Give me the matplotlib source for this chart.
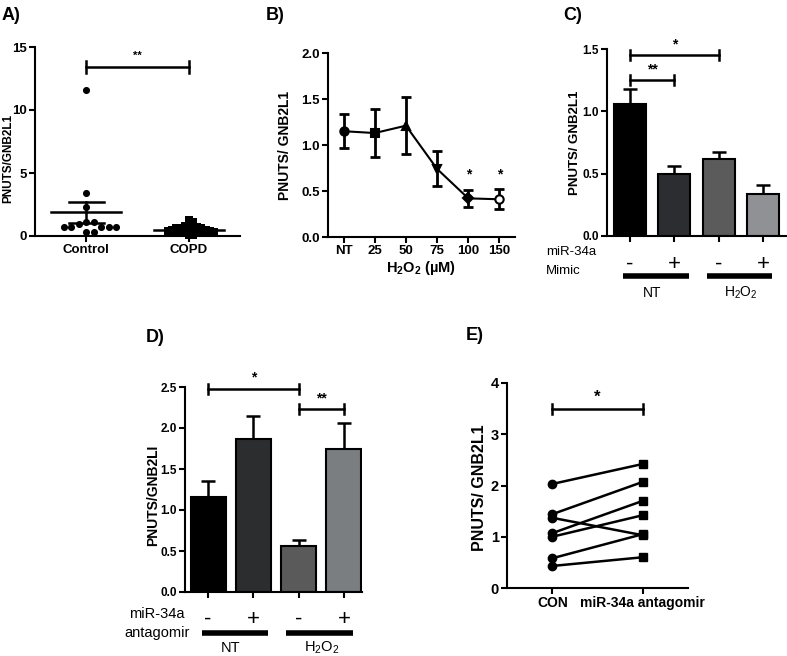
import numpy as np
import matplotlib
matplotlib.use("Agg")
import matplotlib.pyplot as plt

plt.rcParams['font.family'] = ['Liberation Sans', 'DejaVu Sans']
plt.rcParams['mathtext.fontset'] = 'custom'
plt.rcParams['mathtext.rm'] = 'Liberation Sans'
plt.rcParams['mathtext.bf'] = 'Liberation Sans:bold'

# ---- A) patient samples
control_vals = [11.6, 3.4, 2.3, 1.1, 1.1, 0.95, 0.7, 0.7, 0.7, 0.7, 0.7, 0.3, 0.3]
copd_vals = [1.3, 1.1, 0.8, 0.8, 0.7, 0.7, 0.6, 0.6, 0.6, 0.5, 0.5, 0.5,
             0.4, 0.4, 0.4, 0.4, 0.3, 0.3, 0.3, 0.2, 0.2, 0.2, 0.1, 0.1]
groups_a = ["Control", "COPD"]

# ---- B) H2O2 dose response
doses = ["NT", "25", "50", "75", "100", "150"]
dose_mean = [1.15, 1.13, 1.21, 0.74, 0.42, 0.41]
dose_err = [0.185, 0.265, 0.31, 0.19, 0.095, 0.11]
dose_markers = ['o', 's', '^', 'v', 'D', 'o']
dose_sig = ["", "", "", "", "*", "*"]

# ---- C) miR-34a mimic
mimic_mean = [1.06, 0.50, 0.62, 0.34]
mimic_err = [0.12, 0.06, 0.05, 0.07]
mimic_colors = ['#000000', '#2b2d30', '#5b5b5b', '#8f9194']

# ---- D) miR-34a antagomir
antag_mean = [1.16, 1.86, 0.56, 1.75]
antag_err = [0.19, 0.29, 0.08, 0.31]
antag_colors = ['#000000', '#2b2d2f', '#5a5a5a', '#7b7e80']
signs = ["-", "+", "-", "+"]

# ---- E) paired samples
con_vals = [2.03, 1.44, 1.37, 1.07, 1.00, 0.58, 0.43]
antag_vals = [2.42, 2.07, 1.03, 1.70, 1.42, 1.05, 0.60]
groups_e = ["CON", "miR-34a antagomir"]

W, H = 787, 656
fig = plt.figure(figsize=(W / 100, H / 100), dpi=100)


def add_ax(x0, y_top, x1, y_bot):
    ax = fig.add_axes([x0 / W, 1 - y_bot / H, (x1 - x0) / W, (y_bot - y_top) / H])
    for s in ['top', 'right']:
        ax.spines[s].set_visible(False)
    for s in ['left', 'bottom']:
        ax.spines[s].set_linewidth(1.5)
    ax.tick_params(direction='out', width=1.5, length=4, pad=2)
    return ax


def sig_bar(ax, x0, x1, y, cap, text, dy, size=9):
    ax.plot([x0, x1], [y, y], color='k', lw=1.8, clip_on=False)
    ax.plot([x0, x0], [y - cap, y + cap], color='k', lw=1.8, clip_on=False)
    ax.plot([x1, x1], [y - cap, y + cap], color='k', lw=1.8, clip_on=False)
    ax.text((x0 + x1) / 2, y + dy, text, ha='center', va='bottom',
            fontsize=size, fontweight='bold', clip_on=False)


def swarm(vals, px_x, px_y, d):
    # simple beeswarm: push each point sideways until it no longer overlaps
    placed = []
    offs = []
    for v in vals:
        y = v * px_y
        k = 0
        while True:
            step = (k + 1) // 2 * (1 if k % 2 else -1) * d * 0.5
            if all((step - px) ** 2 + (y - py) ** 2 >= d * d for px, py in placed):
                break
            k += 1
        placed.append((step, y))
        offs.append(step / px_x)
    return offs


# ===== A
axA = add_ax(35, 47, 240, 236)
axA.set_xlim(-0.5, 1.5)
axA.set_ylim(0, 15)
axA.set_yticks([0, 5, 10, 15])
axA.set_xticks([0, 1])
axA.set_xticklabels(groups_a, fontweight='bold', fontsize=9.5)
for t in axA.get_yticklabels():
    t.set_fontweight('bold'); t.set_fontsize(9.5)
px_x, px_y = 102.0, 12.6
for i, vals in enumerate([control_vals, copd_vals]):
    offs = swarm(vals, px_x, px_y, 7.5 if i == 0 else 4.2)
    mk = 'o' if i == 0 else 's'
    axA.scatter([i + o for o in offs], vals, marker=mk, s=26, color='k',
                zorder=3, clip_on=False, linewidths=0)
    m = np.mean(vals)
    sem = np.std(vals, ddof=1) / np.sqrt(len(vals))
    axA.plot([i - 0.34, i + 0.34], [m, m], color='k', lw=1.8, zorder=4)
    axA.plot([i - 0.17, i + 0.17], [m + sem, m + sem], color='k', lw=1.8, zorder=4)
    axA.plot([i - 0.17, i + 0.17], [m - sem, m - sem], color='k', lw=1.8, zorder=4)
    axA.plot([i, i], [m - sem, m + sem], color='k', lw=1.8, zorder=4)
sig_bar(axA, 0, 1, 13.4, 0.45, "**", 0.5, size=8)
axA.set_ylabel("PNUTS/GNB2L1", fontweight='bold', fontsize=8.5)
axA.yaxis.set_label_coords(-0.1, 0.41)

# ===== B
axB = add_ax(328, 53, 515, 237)
axB.set_xlim(-0.5, 5.5)
axB.set_ylim(0, 2.0)
axB.set_yticks([0, 0.5, 1.0, 1.5, 2.0])
axB.set_yticklabels(["0.0", "0.5", "1.0", "1.5", "2.0"], fontweight='bold', fontsize=9.5)
xb = np.arange(len(doses))
axB.set_xticks(xb)
axB.set_xticklabels(doses, fontweight='bold', fontsize=9.5)
axB.errorbar(xb, dose_mean, yerr=dose_err, fmt='none', ecolor='k', elinewidth=2,
             capsize=3.5, capthick=2, zorder=2)
axB.plot(xb, dose_mean, color='k', lw=1.5, zorder=3)
for x, y, mk, lab in zip(xb, dose_mean, dose_markers, dose_sig):
    face = 'white' if (mk == 'o' and x == len(doses) - 1) else 'k'
    axB.plot(x, y, marker=mk, markersize=6 if mk != 'D' else 5,
             markerfacecolor=face, markeredgecolor='k', markeredgewidth=1.5, zorder=4)
    if lab:
        axB.text(x, 0.6, lab, ha='center', va='bottom', fontsize=10, fontweight='bold')
axB.set_xlabel(r'$\mathbf{H_2O_2}$ (µM)', fontweight='bold', fontsize=10.5, labelpad=1)
axB.set_ylabel("PNUTS/ GNB2L1", fontweight='bold', fontsize=10)
axB.yaxis.set_label_coords(-0.19, 0.5)

# ===== C
axC = add_ax(607, 49, 787, 236)
axC.set_xlim(-0.52, 3.54)
axC.set_ylim(0, 1.5)
xc = np.arange(4)
axC.bar(xc, mimic_mean, width=0.72, color=mimic_colors, edgecolor='k', linewidth=1.5, zorder=2)
axC.errorbar(xc, mimic_mean, yerr=[np.zeros(4), mimic_err], fmt='none', ecolor='k',
             elinewidth=1.8, capsize=5, capthick=1.8, zorder=1)
axC.set_yticks([0, 0.5, 1.0, 1.5])
axC.set_yticklabels(["0.0", "0.5", "1.0", "1.5"], fontweight='bold', fontsize=8.5)
axC.set_xticks(xc)
axC.set_xticklabels([])
sig_bar(axC, 0, 2, 1.45, 0.04, "*", 0.03, size=10)
sig_bar(axC, 0, 1, 1.25, 0.04, "**", 0.03, size=10)
axC.set_ylabel("PNUTS/ GNB2L1", fontweight='bold', fontsize=9.5)
axC.yaxis.set_label_coords(-0.145, 0.5)
tc = axC.get_xaxis_transform()
axC.text(-1.9, -0.086, "miR-34a", transform=tc, fontsize=9.5,
         ha='left', va='center', clip_on=False)
axC.text(-1.9, -0.187, "Mimic", transform=tc, fontsize=9.5,
         ha='left', va='center', clip_on=False)
for x, s in zip(xc, signs):
    axC.text(x, -0.15, s, transform=tc, fontsize=16, ha='center', va='center', clip_on=False)
axC.plot([-0.16, 1.33], [-0.214, -0.214], transform=tc, color='k', lw=4,
         clip_on=False, solid_capstyle='butt')
axC.plot([1.74, 3.2], [-0.214, -0.214], transform=tc, color='k', lw=4,
         clip_on=False, solid_capstyle='butt')
axC.text(0.5, -0.305, "NT", transform=tc, fontsize=10,
         ha='center', va='center', clip_on=False)
axC.text(2.5, -0.305, r'$\mathrm{H_2O_2}$', transform=tc, fontsize=10,
         ha='center', va='center', clip_on=False)

# ===== D
axD = add_ax(185, 387, 362, 592)
axD.set_xlim(-0.51, 3.4)
axD.set_ylim(0, 2.5)
xd = np.arange(4)
axD.bar(xd, antag_mean, width=0.77, color=antag_colors, edgecolor='k', linewidth=1.5, zorder=2)
axD.errorbar(xd, antag_mean, yerr=[np.zeros(4), antag_err], fmt='none', ecolor='k',
             elinewidth=1.8, capsize=5, capthick=1.8, zorder=1)
axD.set_yticks([0, 0.5, 1.0, 1.5, 2.0, 2.5])
axD.set_yticklabels(["0.0", "0.5", "1.0", "1.5", "2.0", "2.5"], fontweight='bold',
                    fontsize=8.5)
axD.set_xticks(xd)
axD.set_xticklabels([])
sig_bar(axD, 0, 2, 2.48, 0.06, "*", 0.05, size=10)
sig_bar(axD, 2, 3, 2.23, 0.06, "**", 0.05, size=10)
axD.set_ylabel("PNUTS/GNB2LI", fontweight='bold', fontsize=10)
axD.yaxis.set_label_coords(-0.14, 0.47)
td = axD.get_xaxis_transform()
axD.text(-1.13, -0.107, "miR-34a", transform=td, fontsize=10.5,
         ha='center', va='center', clip_on=False)
axD.text(-1.13, -0.2, "antagomir", transform=td, fontsize=10.5,
         ha='center', va='center', clip_on=False)
for x, s in zip(xd, signs):
    axD.text(x, -0.135, s, transform=td, fontsize=16, ha='center', va='center', clip_on=False)
axD.plot([-0.13, 1.32], [-0.2, -0.2], transform=td, color='k', lw=4,
         clip_on=False, solid_capstyle='butt')
axD.plot([1.72, 3.2], [-0.2, -0.2], transform=td, color='k', lw=4,
         clip_on=False, solid_capstyle='butt')
axD.text(0.5, -0.273, "NT", transform=td, fontsize=10.5,
         ha='center', va='center', clip_on=False)
axD.text(2.5, -0.273, r'$\mathrm{H_2O_2}$', transform=td, fontsize=10.5,
         ha='center', va='center', clip_on=False)

# ===== E
axE = add_ax(507, 383, 688, 588)
axE.set_xlim(-0.5, 1.5)
axE.set_ylim(0, 4)
axE.set_yticks([0, 1, 2, 3, 4])
axE.set_yticklabels(["0", "1", "2", "3", "4"], fontweight='bold', fontsize=10.5)
axE.set_xticks([0, 1])
axE.set_xticklabels(groups_e, fontweight='bold', fontsize=10)
for a, b in zip(con_vals, antag_vals):
    axE.plot([0, 1], [a, b], color='k', lw=1.8, zorder=2)
axE.plot(np.zeros(len(con_vals)), con_vals, 'o', color='k', markersize=6, zorder=3)
axE.plot(np.ones(len(antag_vals)), antag_vals, 's', color='k', markersize=6, zorder=3)
sig_bar(axE, 0, 1, 3.5, 0.1, "*", 0.08, size=12)
axE.set_ylabel("PNUTS/ GNB2L1", fontweight='bold', fontsize=11.5)
axE.yaxis.set_label_coords(-0.11, 0.49)

# panel letters
for lab, x, y in [("A)", 2, 16), ("B)", 266, 16), ("C)", 563, 16),
                  ("D)", 146, 337), ("E)", 466, 336)]:
    fig.text(x / W, 1 - y / H, lab, fontsize=13, fontweight='bold',
             ha='left', va='center')

fig.savefig("out.png", dpi=100)
